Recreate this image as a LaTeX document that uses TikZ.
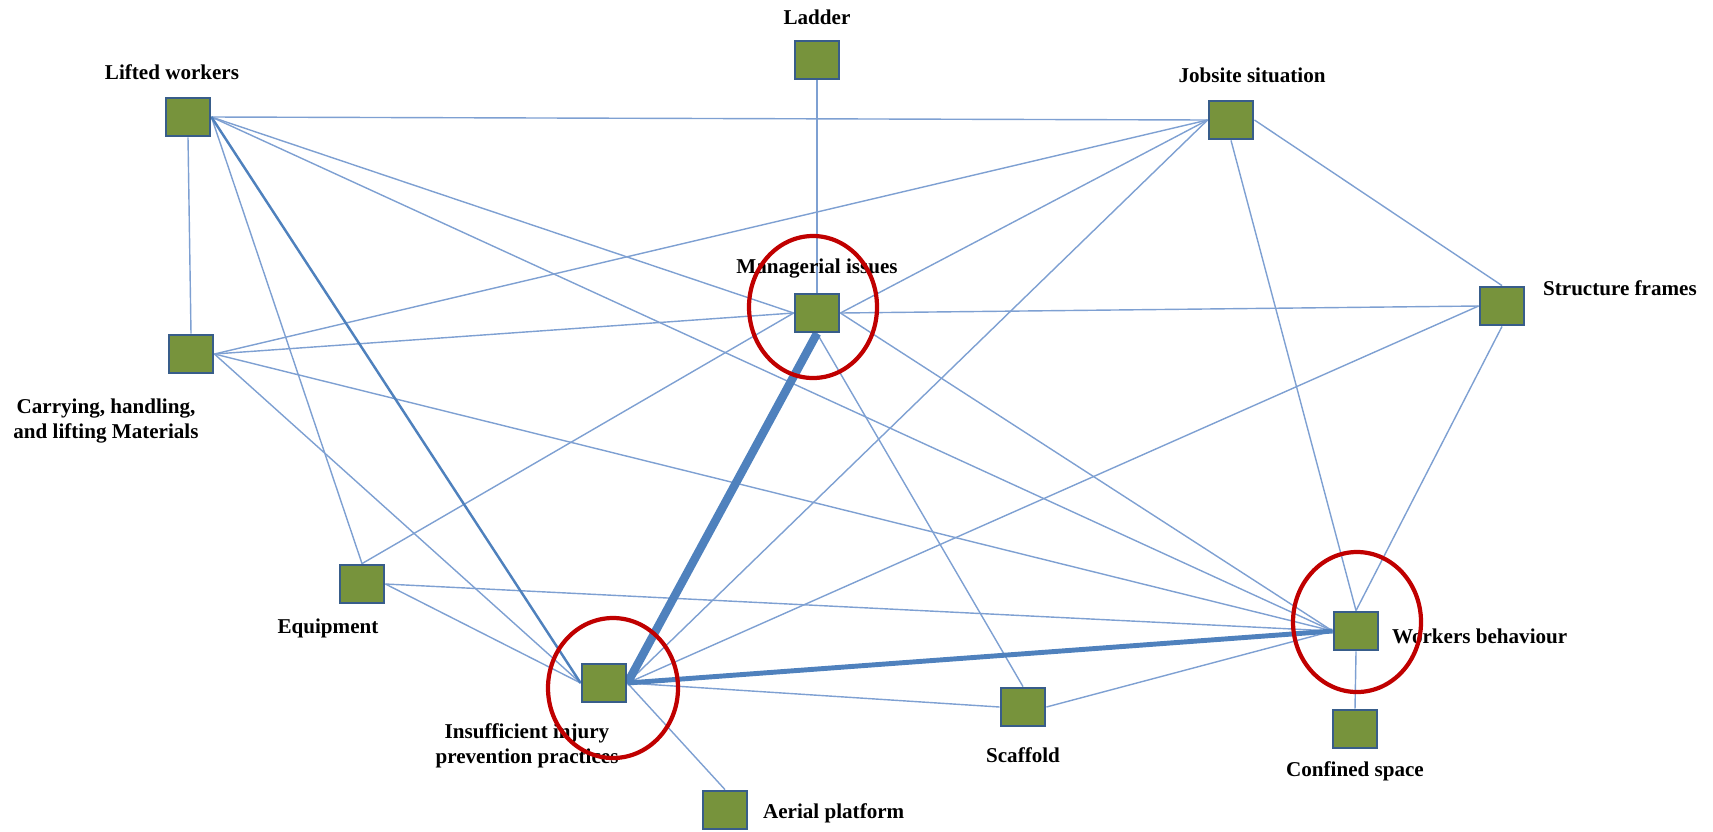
\documentclass[tikz,border=0pt]{standalone}
\usepackage{fontspec}
\setmainfont{Liberation Serif}
\usetikzlibrary{positioning}
\definecolor{boxgreen}{HTML}{77933C}
\definecolor{boxline}{HTML}{385D8A}
\definecolor{linkblue}{HTML}{7EA0D2}
\definecolor{strongblue}{HTML}{4F81BD}
\definecolor{ringred}{HTML}{C00000}
\pgfdeclarelayer{bg}
\pgfsetlayers{bg,main}
\tikzstyle{factor}=[rectangle,draw=boxline,fill=boxgreen,line width=0.8pt,minimum width=0.44cm,minimum height=0.38cm,inner sep=0pt]
\tikzstyle{link}=[draw,linkblue,line width=0.4pt]
\tikzstyle{strong}=[draw,strongblue]
\tikzstyle{factorname}=[font=\fontsize{6}{7}\selectfont\bfseries,inner sep=0pt]
\tikzstyle{ring}=[draw=ringred,line width=1.2pt]

\begin{document}
\begin{tikzpicture}

    \useasboundingbox (0,0) rectangle (17.13,-8.31);

    \foreach \x/\y/\name in {8.17/-0.60/ladder, 1.88/-1.17/lifted, 12.31/-1.20/jobsite,
        8.17/-3.13/mgr, 15.02/-3.06/frames, 1.91/-3.54/carrying, 3.62/-5.84/equip,
        6.04/-6.83/insuff, 10.23/-7.07/scaffold, 13.56/-6.31/workers,
        13.55/-7.29/confined, 7.25/-8.10/aerial}
        \node[factor] (\name) at (\x,\y) {};

    \node[factorname, above=0.15cm of ladder, anchor=base] (ladderlbl) {Ladder};
    \node[factorname, above=0.17cm of lifted, anchor=base, xshift=-0.16cm] (liftedlbl) {Lifted workers};
    \node[factorname, above=0.17cm of jobsite, anchor=base, xshift=0.21cm] (jobsitelbl) {Jobsite situation};
    \node[factorname, above=0.19cm of mgr, anchor=base] (mgrlbl) {Managerial issues};
    \node[factorname, right=0.17cm of frames, anchor=base west, yshift=0.11cm] (frameslbl) {Structure frames};
    \node[factorname, right=0.12cm of workers, anchor=base west, yshift=-0.12cm] (workerslbl) {Workers behaviour};
    \node[factorname, right=0.14cm of aerial, anchor=base west, yshift=-0.08cm] (aeriallbl) {Aerial platform};
    \node[factorname, below=0.29cm of equip, anchor=base, xshift=-0.34cm] (equiplbl) {Equipment};
    \node[factorname, below=0.35cm of scaffold, anchor=base] (scaffoldlbl) {Scaffold};
    \node[factorname, below=0.27cm of confined, anchor=base] (confinedlbl) {Confined space};
    \node[factorname, below=0.24cm of carrying, xshift=-0.85cm, align=center] (carryinglbl) {Carrying, handling,\\and lifting Materials};
    \node[factorname, below=0.20cm of insuff, xshift=-0.77cm, align=center] (insufflbl) {Insufficient injury\\prevention practices};

    \begin{pgfonlayer}{bg}
    \foreach \source/\dest in {lifted.east/jobsite.west, lifted.south/carrying.north,
        lifted.east/equip.north, lifted.east/mgr.west, lifted.east/workers.west,
        carrying.east/jobsite.west, carrying.east/mgr.west, carrying.east/insuff.west,
        carrying.east/workers.west, ladder.south/mgr.north, mgr.east/jobsite.west,
        mgr.east/frames.west, mgr.west/equip.north, mgr.south/scaffold.north,
        mgr.east/workers.west, jobsite.east/frames.north, jobsite.south/workers.north,
        jobsite.west/insuff.east, frames.west/insuff.east, frames.south/workers.north,
        equip.east/workers.west, equip.east/insuff.west, insuff.east/scaffold.west,
        insuff.east/aerial.north, scaffold.east/workers.west, workers.south/confined.north}
        \path[link] (\source) -- (\dest);

    \path[strong, line width=0.7pt] (lifted.east) -- (insuff.west);
    \path[strong, line width=1.4pt] (insuff.east) -- (workers.west);
    \path[strong, line width=2.4pt] (mgr.south) -- (insuff.east);
    \end{pgfonlayer}

    % highlighted factors
    \draw[ring] ([shift={(-0.04,0.06)}]mgr.center) ellipse [x radius=0.64, y radius=0.71];
    \draw[ring] ([shift={(0.09,-0.05)}]insuff.center) ellipse [x radius=0.65, y radius=0.70];
    \draw[ring] ([shift={(0.01,0.09)}]workers.center) ellipse [x radius=0.64, y radius=0.70];

\end{tikzpicture}
\end{document}
